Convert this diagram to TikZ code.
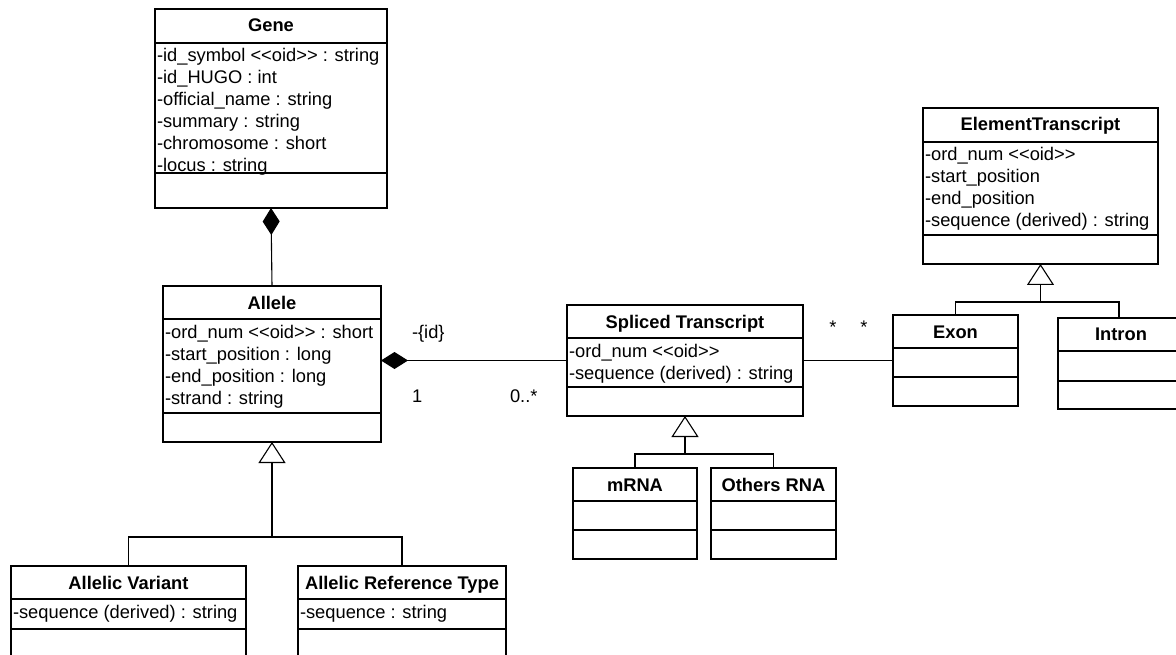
\documentclass[tikz,border=0pt]{standalone}
\usepackage{fontspec}
\setmainfont{Liberation Sans}
\usetikzlibrary{arrows.meta}

\newlength{\du}
\setlength{\du}{1pt}
\definecolor{dialinecolor}{rgb}{0.000000, 0.000000, 0.000000}
\newcommand{\umlfont}{\fontsize{18.3}{22}\selectfont}

\tikzset{
  classbox/.style={draw=dialinecolor, line width=1.6\du, inner sep=0pt, outer sep=0pt, anchor=north west},
  sepline/.style={draw=dialinecolor, line width=1.6\du},
  classname/.style={anchor=base, inner sep=0pt, outer sep=0pt, font=\umlfont\bfseries},
  attr/.style={anchor=base west, inner sep=0pt, outer sep=0pt, font=\umlfont},
  rolename/.style={anchor=base west, inner sep=0pt, outer sep=0pt, font=\umlfont},
  link/.style={draw=dialinecolor, line width=1.1\du},
  % arrow tips in pt (1\du = 1pt)
  composition/.style={arrows={Diamond[length=27pt,width=17pt]}-},
  generalization/.style={arrows=-{Triangle[open,length=21pt,width=27pt]}},
}

\begin{document}
\begin{tikzpicture}[x=1\du,y=-1\du]
\useasboundingbox (0,0) rectangle (1176,655);
\clip (0,0) rectangle (1176,655);

% Gene
\node[classbox, minimum width=232\du, minimum height=199\du] (gene) at (155,9) {};
\draw[sepline] (gene.west |- 0,43) -- (gene.east |- 0,43);
\draw[sepline] (gene.west |- 0,173) -- (gene.east |- 0,173);
\node[classname] (geneT) at (271,32) {Gene};
\node[attr] (geneA1) at (157,62) {-id\_symbol <{}<oid>{}> : string};
\node[attr] (geneA2) at (157,84) {-id\_HUGO : int};
\node[attr] (geneA3) at (157,106) {-official\_name : string};
\node[attr] (geneA4) at (157,128) {-summary : string};
\node[attr] (geneA5) at (157,150) {-chromosome : short};
\node[attr] (geneA6) at (157,172) {-locus : string};

% Allele
\node[classbox, minimum width=218\du, minimum height=156\du] (allele) at (163,286) {};
\draw[sepline] (allele.west |- 0,319) -- (allele.east |- 0,319);
\draw[sepline] (allele.west |- 0,413) -- (allele.east |- 0,413);
\node[classname] (alleleT) at (272,309) {Allele};
\node[attr] (alleleA1) at (165,338) {-ord\_num <{}<oid>{}> : short};
\node[attr] (alleleA2) at (165,360) {-start\_position : long};
\node[attr] (alleleA3) at (165,382) {-end\_position : long};
\node[attr] (alleleA4) at (165,404) {-strand : string};

% Allelic Variant
\node[classbox, minimum width=235\du, minimum height=130\du] (variant) at (11,566) {};
\draw[sepline] (variant.west |- 0,599) -- (variant.east |- 0,599);
\draw[sepline] (variant.west |- 0,629) -- (variant.east |- 0,629);
\node[classname] (variantT) at (128.5,589) {Allelic Variant};
\node[attr] (variantA1) at (13,618) {-sequence (derived) : string};

% Allelic Reference Type
\node[classbox, minimum width=208\du, minimum height=130\du] (reftype) at (298,566) {};
\draw[sepline] (reftype.west |- 0,599) -- (reftype.east |- 0,599);
\draw[sepline] (reftype.west |- 0,629) -- (reftype.east |- 0,629);
\node[classname] (reftypeT) at (402,589) {Allelic Reference Type};
\node[attr] (reftypeA1) at (300,618) {-sequence : string};

% Spliced Transcript
\node[classbox, minimum width=236\du, minimum height=111\du] (spliced) at (567,305) {};
\draw[sepline] (spliced.west |- 0,338) -- (spliced.east |- 0,338);
\draw[sepline] (spliced.west |- 0,387) -- (spliced.east |- 0,387);
\node[classname] (splicedT) at (685,328) {Spliced Transcript};
\node[attr] (splicedA1) at (569,357) {-ord\_num <{}<oid>{}>};
\node[attr] (splicedA2) at (569,379) {-sequence (derived) : string};

% mRNA
\node[classbox, minimum width=124\du, minimum height=91\du] (mrna) at (573,468) {};
\draw[sepline] (mrna.west |- 0,501) -- (mrna.east |- 0,501);
\draw[sepline] (mrna.west |- 0,530) -- (mrna.east |- 0,530);
\node[classname] (mrnaT) at (635,491) {mRNA};

% Others RNA
\node[classbox, minimum width=125\du, minimum height=91\du] (others) at (711,468) {};
\draw[sepline] (others.west |- 0,501) -- (others.east |- 0,501);
\draw[sepline] (others.west |- 0,530) -- (others.east |- 0,530);
\node[classname] (othersT) at (773.5,491) {Others RNA};

% ElementTranscript
\node[classbox, minimum width=235\du, minimum height=156\du] (element) at (923,108) {};
\draw[sepline] (element.west |- 0,142) -- (element.east |- 0,142);
\draw[sepline] (element.west |- 0,235) -- (element.east |- 0,235);
\node[classname] (elementT) at (1040.5,131) {ElementTranscript};
\node[attr] (elementA1) at (925,161) {-ord\_num <{}<oid>{}>};
\node[attr] (elementA2) at (925,183) {-start\_position};
\node[attr] (elementA3) at (925,205) {-end\_position};
\node[attr] (elementA4) at (925,227) {-sequence (derived) : string};

% Exon
\node[classbox, minimum width=125\du, minimum height=91\du] (exon) at (893,315) {};
\draw[sepline] (exon.west |- 0,348) -- (exon.east |- 0,348);
\draw[sepline] (exon.west |- 0,377) -- (exon.east |- 0,377);
\node[classname] (exonT) at (955.5,338) {Exon};

% Intron
\node[classbox, minimum width=122\du, minimum height=91\du] (intron) at (1058,318) {};
\draw[sepline] (intron.west |- 0,351) -- (intron.east |- 0,351);
\draw[sepline] (intron.west |- 0,381) -- (intron.east |- 0,381);
\node[classname] (intronT) at (1121,341) {Intron};

% compositions
\draw[link, composition] (gene.south) -- (allele.north);
\draw[link, composition] (allele.east |- spliced.west) -- (spliced.west);
\node[rolename] (roleId) at (412,338) {-\{id\}};
\node[rolename] (roleOne) at (412,402) {1};
\node[rolename] (roleMany) at (510,402) {0..*};

% association
\draw[link] (spliced.east) -- (exon.west);
\node[classname, font=\umlfont] (starL) at (833,334) {*};
\node[classname, font=\umlfont] (starR) at (864,334) {*};

% generalizations
\coordinate (alleleJ) at (allele.south |- 0,537);
\draw[link] (variant.north) |- (alleleJ) -| (reftype.north);
\draw[link, generalization] (alleleJ) -- (allele.south);

\coordinate (splicedJ) at (spliced.south |- 0,454);
\draw[link] (mrna.north) |- (splicedJ) -| (others.north);
\draw[link, generalization] (splicedJ) -- (spliced.south);

\coordinate (elementJ) at (element.south |- 0,302);
\draw[link] (exon.north) |- (elementJ) -| (intron.north);
\draw[link, generalization] (elementJ) -- (element.south);
\end{tikzpicture}
\end{document}
